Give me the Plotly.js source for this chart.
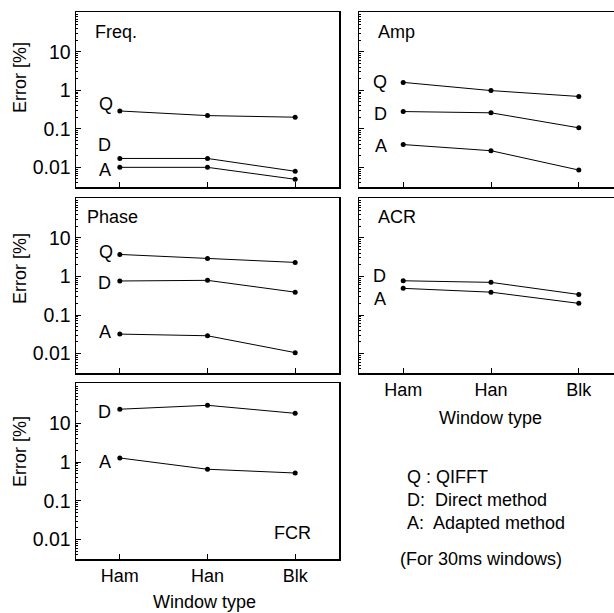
<!DOCTYPE html>
<html>
<head>
<meta charset="utf-8">
<script src="https://cdn.plot.ly/plotly-3.0.1.min.js"></script>
<style>
html,body{margin:0;padding:0;overflow:hidden;background:#fff;}
#chart{width:630px;height:613px;}
</style>
</head>
<body>
<div id="chart"></div>
<script>
// ---- data ----
const categories = ['Ham', 'Han', 'Blk'];
const yTickVals = [0.01, 0.1, 1, 10];
const yTickText = ['0.01', '0.1', '1', '10'];

const freqQ = [0.29, 0.22, 0.20];
const freqD = [0.017, 0.017, 0.0079];
const freqA = [0.010, 0.010, 0.0049];

const ampQ = [1.6, 0.98, 0.69];
const ampD = [0.28, 0.26, 0.106];
const ampA = [0.039, 0.027, 0.0085];

const phaseQ = [3.7, 2.9, 2.3];
const phaseD = [0.76, 0.79, 0.39];
const phaseA = [0.032, 0.029, 0.0106];

const acrD = [0.77, 0.70, 0.34];
const acrA = [0.49, 0.39, 0.20];

const fcrD = [23, 29, 18];
const fcrA = [1.27, 0.65, 0.52];

const panelNames = ['Freq.', 'Amp', 'Phase', 'ACR', 'FCR'];
const legendLines = ['Q : QIFFT', 'D:  Direct method', 'A:  Adapted method', '(For 30ms windows)'];

// ---- helpers ----
const FONT = 'Liberation Sans, Arial, sans-serif';
const FS = 18;
const YFS = 19.5;

const minorVals = [];
for (let d = -3; d <= 2; d++) for (let k = 2; k <= 9; k++) minorVals.push(k * Math.pow(10, d));

function series(x, y, xa, ya) {
  return {
    x: x, y: y, xaxis: xa, yaxis: ya, type: 'scatter', mode: 'lines+markers',
    line: {color: 'black', width: 1},
    marker: {color: 'black', size: 5},
    showlegend: false, hoverinfo: 'x+y'
  };
}

const traces = [
  series(categories, freqQ, 'x', 'y'),
  series(categories, freqD, 'x', 'y'),
  series(categories, freqA, 'x', 'y'),
  series(categories, ampQ, 'x2', 'y2'),
  series(categories, ampD, 'x2', 'y2'),
  series(categories, ampA, 'x2', 'y2'),
  series(categories, phaseQ, 'x3', 'y3'),
  series(categories, phaseD, 'x3', 'y3'),
  series(categories, phaseA, 'x3', 'y3'),
  series(categories, acrD, 'x4', 'y4'),
  series(categories, acrA, 'x4', 'y4'),
  series(categories, fcrD, 'x5', 'y5'),
  series(categories, fcrA, 'x5', 'y5')
];

const W = 630, H = 613;
const colX = [[76, 339], [359.3, 622.7]];
const rowY = [[12, 187], [198, 373.3], [383.3, 559.3]];
function xd(c) { return [colX[c][0] / W, colX[c][1] / W]; }
function yd(r) { return [1 - rowY[r][1] / H, 1 - rowY[r][0] / H]; }

function xaxis(c, r, showLabels, anchor) {
  return {
    domain: xd(c), anchor: anchor, type: 'category',
    range: [-0.5, 2.5], categoryarray: categories, categoryorder: 'array',
    showline: true, linecolor: 'black', linewidth: 1.5, mirror: true,
    ticks: 'inside', ticklen: 5, tickwidth: 1, tickcolor: 'black',
    showticklabels: showLabels, showgrid: false, zeroline: false,
    tickfont: {family: FONT, size: FS, color: 'black'}
  };
}
function yaxis(c, r, showLabels, anchor) {
  return {
    domain: yd(r), anchor: anchor, type: 'log',
    range: [-2.51, 2.03],
    tickmode: 'array', tickvals: yTickVals, ticktext: yTickText,
    showline: true, linecolor: 'black', linewidth: 1.5, mirror: true,
    ticks: 'inside', ticklen: 5, tickwidth: 1, tickcolor: 'black',
    minor: {tickmode: 'array', tickvals: minorVals, ticks: 'inside', ticklen: 2, tickwidth: 1, tickcolor: 'black', showgrid: false},
    showticklabels: showLabels, showgrid: false, zeroline: false,
    tickfont: {family: FONT, size: YFS, color: 'black'}
  };
}

function lab(text, xa, ya, val, xshift, yshift) {
  return {
    text: text, xref: xa, yref: ya, x: categories[0], y: Math.log10(val),
    xanchor: 'right', yanchor: 'middle', xshift: xshift, yshift: yshift,
    showarrow: false, font: {family: FONT, size: FS, color: 'black'}
  };
}
function panelTitle(text, xa, ya, x, y, xanchor) {
  return {
    text: text, xref: xa + ' domain', yref: ya + ' domain', x: x, y: y,
    xanchor: xanchor, yanchor: 'middle', showarrow: false,
    font: {family: FONT, size: FS, color: 'black'}
  };
}
function paperText(text, px, py, xanchor, angle) {
  return {
    text: text, xref: 'paper', yref: 'paper', x: px / W, y: 1 - py / H,
    xanchor: xanchor, yanchor: 'middle', showarrow: false, textangle: angle || 0,
    font: {family: FONT, size: FS, color: 'black'}
  };
}

const annotations = [
  panelTitle(panelNames[0], 'x', 'y', 0.0635, 0.886, 'left'),
  panelTitle(panelNames[1], 'x2', 'y2', 0.063, 0.886, 'left'),
  panelTitle(panelNames[2], 'x3', 'y3', 0.034, 0.892, 'left'),
  panelTitle(panelNames[3], 'x4', 'y4', 0.063, 0.892, 'left'),
  panelTitle(panelNames[4], 'x5', 'y5', 0.90, 0.149, 'right'),

  lab('Q', 'x', 'y', freqQ[0], -5, 7),
  lab('D', 'x', 'y', freqD[0], -7, 13),
  lab('A', 'x', 'y', freqA[0], -7, -3),

  lab('Q', 'x2', 'y2', ampQ[0], -14, 0),
  lab('D', 'x2', 'y2', ampD[0], -14, -2),
  lab('A', 'x2', 'y2', ampA[0], -14, -1),

  lab('Q', 'x3', 'y3', phaseQ[0], -5, 2),
  lab('D', 'x3', 'y3', phaseD[0], -7, -2),
  lab('A', 'x3', 'y3', phaseA[0], -7, 2),

  lab('D', 'x4', 'y4', acrD[0], -15, 5),
  lab('A', 'x4', 'y4', acrA[0], -15, -11),

  lab('D', 'x5', 'y5', fcrD[0], -7, -3),
  lab('A', 'x5', 'y5', fcrA[0], -7, -4),

  paperText('Error [%]', 20, 78, 'center', -90),
  paperText('Error [%]', 20, 269, 'center', -90),
  paperText('Error [%]', 20, 452, 'center', -90),
  paperText('Window type', 204, 601.7, 'center'),
  paperText('Window type', 490, 418.3, 'center'),

  paperText(legendLines[0], 405, 476.7, 'left'),
  paperText(legendLines[1], 405, 499.5, 'left'),
  paperText(legendLines[2], 405, 523.3, 'left'),
  paperText(legendLines[3], 398, 559.3, 'left')
];

const layout = {
  width: W, height: H,
  margin: {l: 0, r: 0, t: 0, b: 0},
  paper_bgcolor: 'white', plot_bgcolor: 'white',
  font: {family: FONT, size: FS, color: 'black'},
  showlegend: false,
  xaxis: xaxis(0, 0, false, 'y'),
  yaxis: yaxis(0, 0, true, 'x'),
  xaxis2: xaxis(1, 0, false, 'y2'),
  yaxis2: yaxis(1, 0, false, 'x2'),
  xaxis3: xaxis(0, 1, false, 'y3'),
  yaxis3: yaxis(0, 1, true, 'x3'),
  xaxis4: xaxis(1, 1, true, 'y4'),
  yaxis4: yaxis(1, 1, false, 'x4'),
  xaxis5: xaxis(0, 2, true, 'y5'),
  yaxis5: yaxis(0, 2, true, 'x5'),
  annotations: annotations
};

Plotly.newPlot('chart', traces, layout, {displayModeBar: false, staticPlot: true});
</script>
</body>
</html>
